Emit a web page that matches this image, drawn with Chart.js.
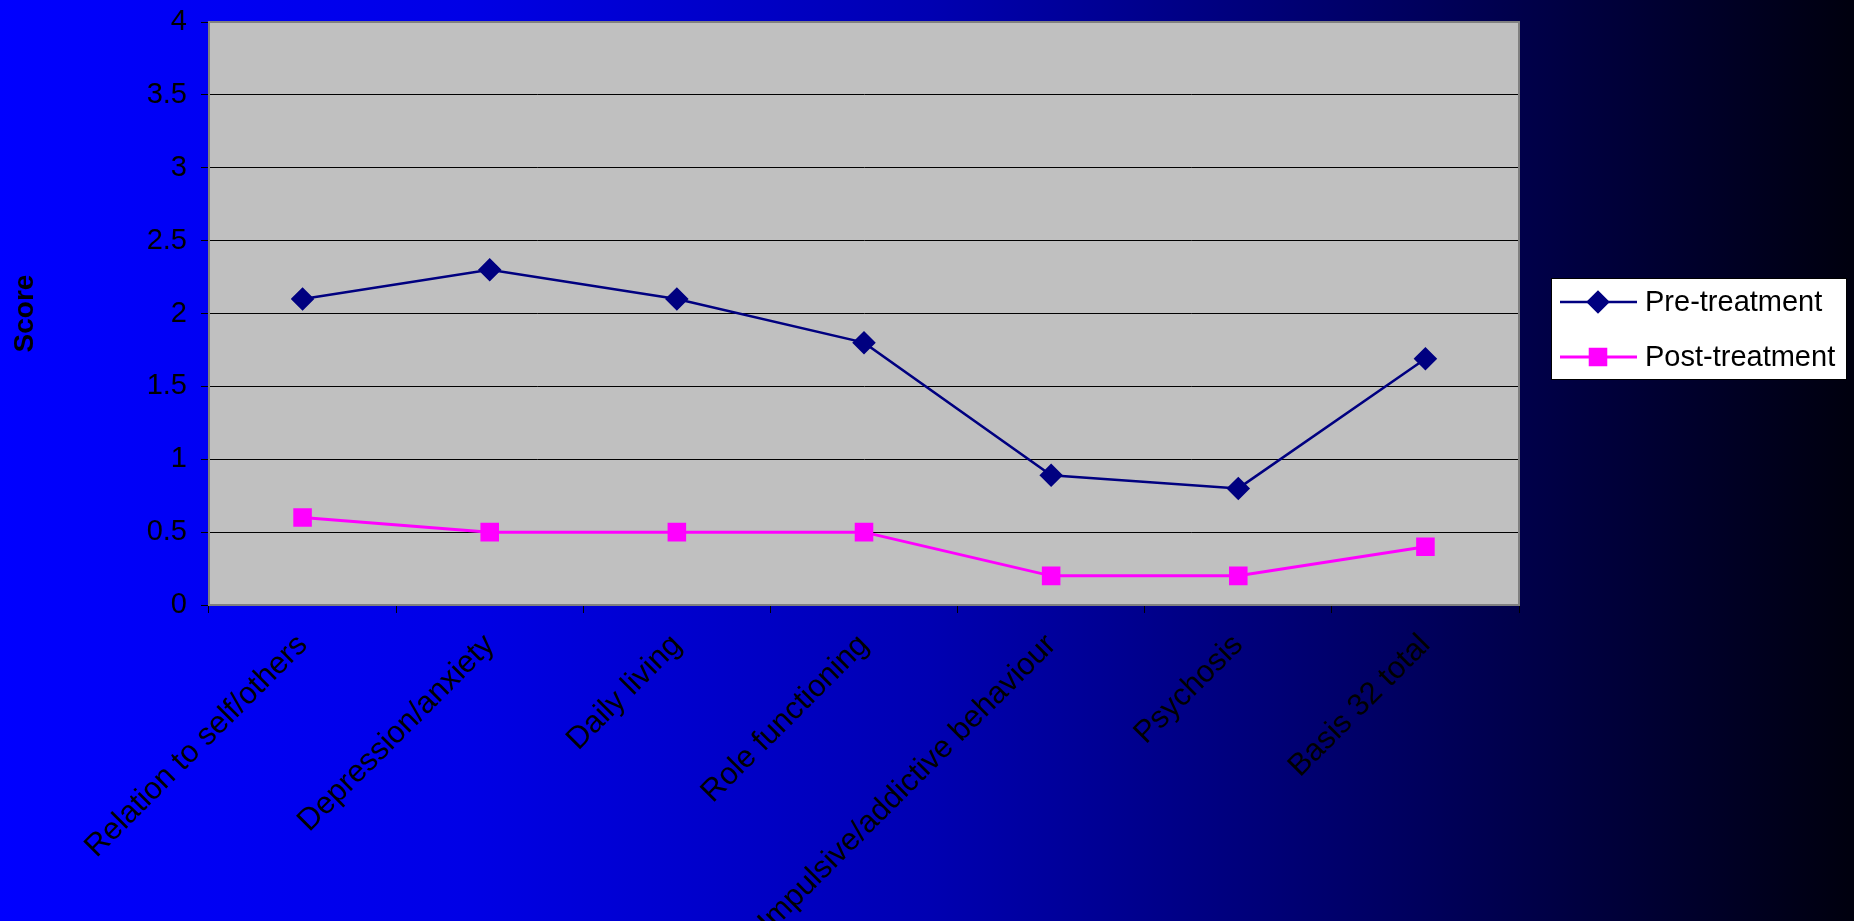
<!DOCTYPE html>
<html>
<head>
<meta charset="utf-8">
<script src="https://cdn.jsdelivr.net/npm/chart.js@4/dist/chart.umd.min.js"></script>
<style>
  html, body { margin: 0; padding: 0; }
  body {
    width: 1854px; height: 921px; overflow: hidden;
    background: linear-gradient(to right, #0000ff 0%, #0000e6 25%, #0000b2 50%, #000062 75%, #00000e 100%);
  }
  canvas { display: block; }
</style>
</head>
<body>
<canvas id="chart" width="1854" height="921"></canvas>
<script>
const categories = ['Relation to self/others', 'Depression/anxiety', 'Daily living', 'Role functioning',
  'Impulsive/addictive behaviour', 'Psychosis', 'Basis 32 total'];
const preTreatment = [2.1, 2.3, 2.1, 1.8, 0.89, 0.8, 1.69];
const postTreatment = [0.6, 0.5, 0.5, 0.5, 0.2, 0.2, 0.4];
const yTicks = [0, 0.5, 1, 1.5, 2, 2.5, 3, 3.5, 4];

const FONT = "'Liberation Sans', Arial, sans-serif";

// grey plot area with its grey frame
const plotArea = {
  id: 'plotArea',
  beforeDraw(chart) {
    const { ctx, chartArea: a } = chart;
    ctx.save();
    ctx.fillStyle = '#c0c0c0';
    ctx.fillRect(a.left, a.top, a.right - a.left, a.bottom - a.top);
    ctx.restore();
  },
  afterDatasetsDraw(chart) {
    const { ctx, chartArea: a } = chart;
    ctx.save();
    ctx.strokeStyle = '#808080';
    ctx.lineWidth = 2;
    ctx.strokeRect(a.left, a.top, a.right - a.left, a.bottom - a.top);
    ctx.restore();
  }
};

// Excel-style legend box to the right of the plot
const boxLegend = {
  id: 'boxLegend',
  afterDraw(chart) {
    const ctx = chart.ctx;
    const x = 1551, y = 278, w = 295, h = 101;
    ctx.save();
    ctx.fillStyle = '#ffffff';
    ctx.fillRect(x, y, w, h);
    ctx.strokeStyle = '#000000';
    ctx.lineWidth = 1;
    ctx.strokeRect(x + 0.5, y + 0.5, w, h);
    chart.data.datasets.forEach((ds, i) => {
      const cy = 302 + i * 55;
      ctx.strokeStyle = ds.borderColor;
      ctx.lineWidth = ds.borderWidth;
      ctx.beginPath();
      ctx.moveTo(1560, cy);
      ctx.lineTo(1637, cy);
      ctx.stroke();
      ctx.fillStyle = ds.pointBackgroundColor;
      ctx.strokeStyle = ds.pointBorderColor;
      Chart.helpers.drawPoint(ctx, {
        pointStyle: ds.pointStyle, radius: ds.pointRadius, rotation: 0, borderWidth: 1
      }, 1598, cy);
      ctx.fillStyle = '#000000';
      ctx.font = '29px ' + FONT;
      ctx.textAlign = 'left';
      ctx.textBaseline = 'middle';
      ctx.fillText(ds.label, 1645, cy + 1);
    });
    ctx.restore();
  }
};

new Chart(document.getElementById('chart'), {
  type: 'line',
  data: {
    labels: categories,
    datasets: [{
      label: 'Pre-treatment',
      data: preTreatment,
      borderColor: '#000080',
      backgroundColor: '#000080',
      borderWidth: 2.5,
      pointStyle: 'rectRot',
      pointRadius: 10,
      pointBackgroundColor: '#000080',
      pointBorderColor: '#000080',
      tension: 0
    }, {
      label: 'Post-treatment',
      data: postTreatment,
      borderColor: '#ff00ff',
      backgroundColor: '#ff00ff',
      borderWidth: 3,
      pointStyle: 'rect',
      pointRadius: 11,
      pointBackgroundColor: '#ff00ff',
      pointBorderColor: '#ff00ff',
      tension: 0
    }]
  },
  options: {
    responsive: false,
    animation: false,
    devicePixelRatio: 1,
    layout: { padding: { top: 22, right: 335, bottom: 0, left: 0 } },
    plugins: {
      legend: { display: false },
      tooltip: { enabled: false }
    },
    scales: {
      x: {
        offset: true,
        grid: { offset: true, drawOnChartArea: false, drawTicks: true, tickLength: 8, color: '#000000' },
        border: { display: true, color: '#808080', width: 2 },
        ticks: {
          color: '#000000',
          font: { family: FONT, size: 31 },
          minRotation: 45,
          maxRotation: 45,
          autoSkip: false,
          padding: 14
        },
        afterFit(scale) {
          scale.height = 316;
          scale.paddingLeft = 0;
          scale.paddingRight = 0;
        }
      },
      y: {
        min: 0,
        max: 4,
        afterBuildTicks(scale) {
          scale.ticks = yTicks.map(v => ({ value: v }));
        },
        grid: { color: '#000000', lineWidth: 1, tickLength: 8 },
        border: { display: true, color: '#808080', width: 2 },
        ticks: {
          color: '#000000',
          font: { family: FONT, size: 29 },
          padding: 14,
          callback: v => String(v)
        },
        title: {
          display: true,
          text: 'Score',
          color: '#000000',
          font: { family: FONT, size: 28, weight: 'bold' },
          padding: { top: 8, bottom: 0 }
        },
        afterFit(scale) {
          scale.width = 209;
          scale.paddingTop = 0;
          scale.paddingBottom = 0;
        }
      }
    }
  },
  plugins: [plotArea, boxLegend]
});
</script>
</body>
</html>
